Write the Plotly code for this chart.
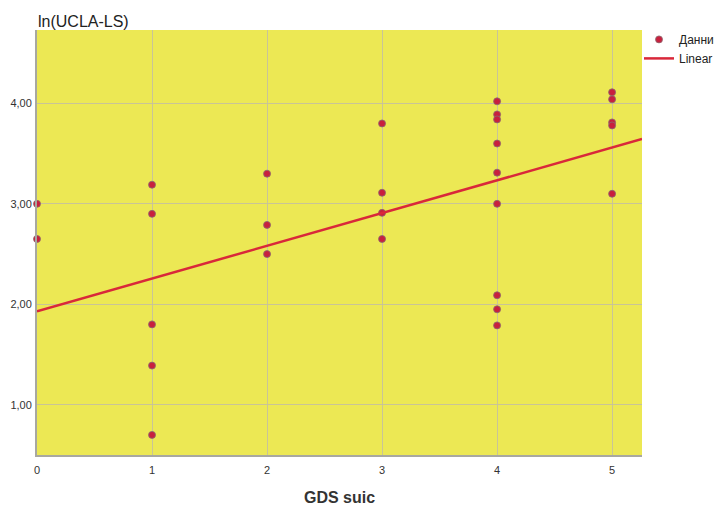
import plotly.graph_objects as go

# Data
gds_suic = [0, 0,
            1, 1, 1, 1, 1,
            2, 2, 2,
            3, 3, 3, 3,
            4, 4, 4, 4, 4, 4, 4, 4, 4,
            5, 5, 5, 5, 5]
ln_ucla = [3.00, 2.65,
           3.19, 2.90, 1.80, 1.39, 0.70,
           3.30, 2.79, 2.50,
           3.80, 3.11, 2.91, 2.65,
           4.02, 3.89, 3.84, 3.60, 3.31, 3.00, 2.09, 1.95, 1.79,
           4.11, 4.04, 3.81, 3.78, 3.10]

fit_intercept = 1.93
fit_slope = 0.326
x_range = [0, 5.26]
y_range = [0.5, 4.73]

x_ticks = [0, 1, 2, 3, 4, 5]
y_ticks = [1, 2, 3, 4]
y_ticklabels = ["1,00", "2,00", "3,00", "4,00"]

bg = "#ece854"
pt_color = "#c8203e"
line_color = "#d9283a"
grid = "#c9c496"

FIG_W = 760

fig = go.Figure()
fig.add_trace(go.Scatter(
    x=gds_suic, y=ln_ucla, mode="markers", name="Данни",
    marker=dict(size=7, color=pt_color, line=dict(color="#8a6a70", width=0.8)),
    cliponaxis=False,
))
fig.add_trace(go.Scatter(
    x=x_range, y=[fit_intercept + fit_slope * v for v in x_range],
    mode="lines", name="Linear",
    line=dict(color=line_color, width=2.5),
))

fig.update_layout(
    width=FIG_W, height=497,
    margin=dict(l=29, r=FIG_W - 634, t=22, b=50, autoexpand=False),
    paper_bgcolor="white", plot_bgcolor=bg,
    font=dict(family="Liberation Sans, Arial", color="#333333"),
    showlegend=True,
    legend=dict(xref="container", yref="container", x=631 / FIG_W, y=0.966,
                xanchor="left", yanchor="top",
                font=dict(size=12, color="#222222"), itemwidth=30,
                tracegroupgap=0, bgcolor="rgba(0,0,0,0)"),
    xaxis=dict(range=x_range, tickvals=x_ticks, ticktext=[str(v) for v in x_ticks],
               showgrid=True, gridcolor=grid, gridwidth=1.3, zeroline=False,
               showline=True, linecolor="#a8a8a0", linewidth=2, automargin=False,
               ticks="", tickfont=dict(size=11, color="#333333"), ticklabelstandoff=4),
    yaxis=dict(range=y_range, tickvals=y_ticks, ticktext=y_ticklabels,
               showgrid=True, gridcolor=grid, gridwidth=1.3, zeroline=False,
               showline=True, linecolor="#a8a8a0", linewidth=2, automargin=False,
               ticks="", tickfont=dict(size=11, color="#333333"), ticklabelstandoff=1),
    annotations=[
        dict(text="ln(UCLA-LS)", xref="paper", yref="paper",
             x=0, y=1, xanchor="left", yanchor="middle", yshift=9, xshift=-1,
             showarrow=False, font=dict(size=16, color="#222222")),
        dict(text="<b>GDS suic</b>", xref="paper", yref="paper",
             x=0.5, y=0, xanchor="center", yanchor="middle", yshift=-42,
             showarrow=False, font=dict(size=16, color="#333333")),
    ],
)

fig.write_html("out.html")
